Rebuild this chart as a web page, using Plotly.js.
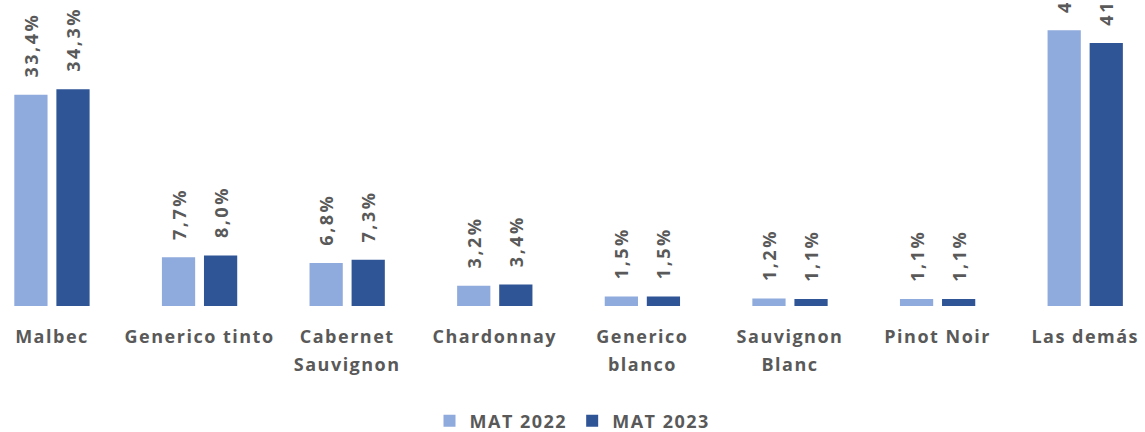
<!DOCTYPE html>
<html>
<head>
<meta charset="utf-8">
<script src="https://cdn.plot.ly/plotly-3.0.1.min.js"></script>
<style>
  html, body { margin: 0; padding: 0; background: #fff; }
  #chart { width: 1145px; height: 432px; }
  svg text { letter-spacing: 1.5px; }
  svg text.bartext { letter-spacing: 2.5px; }
</style>
</head>
<body>
<div id="chart"></div>
<script>
const categories = ["Malbec", "Generico tinto", "Cabernet<br>Sauvignon", "Chardonnay", "Generico<br>blanco", "Sauvignon<br>Blanc", "Pinot Noir", "Las demás"];
const mat2022 = [33.4, 7.7, 6.8, 3.2, 1.5, 1.2, 1.1, 43.6];
const mat2023 = [34.3, 8.0, 7.3, 3.4, 1.5, 1.1, 1.1, 41.6];
const seriesNames = ["MAT 2022", "MAT 2023"];

const fmt = v => '\u00A0\u00A0' + v.toFixed(1).replace('.', ',') + '%';
const grey = '#595959';
const fontFam = 'Open Sans, sans-serif';

function bar(name, vals, color) {
  return {
    type: 'bar', name: name, x: categories, y: vals,
    marker: { color: color },
    text: vals.map(fmt), textposition: 'outside', textangle: -90,
    constraintext: 'none', cliponaxis: false,
    textfont: { family: fontFam, size: 18, color: grey, weight: 700 },
    hoverinfo: 'none'
  };
}

const data = [bar(seriesNames[0], mat2022, '#8FAADC'), bar(seriesNames[1], mat2023, '#2F5597')];

const layout = {
  width: 1145, height: 432,
  margin: { l: 0, r: 0, t: 0, b: 126, autoexpand: false },
  paper_bgcolor: '#fff', plot_bgcolor: '#fff',
  barmode: 'group', bargap: 0.43, bargroupgap: 0.21,
  showlegend: true,
  legend: {
    orientation: 'h', x: 0.5, xanchor: 'center', y: -0.376, yanchor: 'middle',
    font: { family: fontFam, size: 18, color: grey, weight: 700 }
  },
  xaxis: {
    type: 'category', range: [-0.352, 7.405], automargin: false,
    showgrid: false, zeroline: false, showline: false, ticks: '',
    tickfont: { family: fontFam, size: 18, color: grey, weight: 700 },
    ticklabelstandoff: 18, fixedrange: true
  },
  yaxis: {
    range: [0, 48.4], visible: false, showgrid: false, zeroline: false, fixedrange: true
  }
};

Plotly.newPlot('chart', data, layout, { staticPlot: true, displayModeBar: false }).then(gd => {
  // widen line spacing of two-line category labels
  gd.querySelectorAll('.xtick text tspan.line').forEach(t => {
    const dy = t.getAttribute('dy');
    if (dy && parseFloat(dy) > 0) t.setAttribute('dy', (parseFloat(dy) * 1.2) + 'em');
  });
});
</script>
</body>
</html>
